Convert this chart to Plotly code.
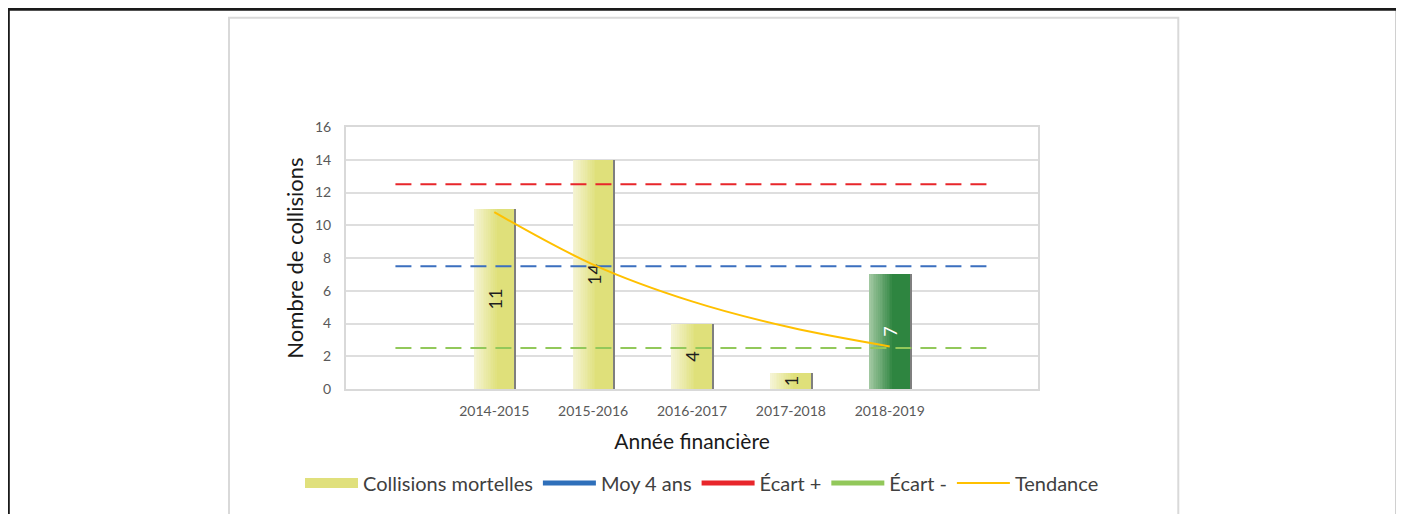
import plotly.graph_objects as go

# ---------------- data ----------------
categories = ["2014-2015", "2015-2016", "2016-2017", "2017-2018", "2018-2019"]
collisions = [11, 14, 4, 1, 7]
tendance = [10.8, 7.6, 5.35, 3.75, 2.6]
# reference lines span one extra (empty) period on each side
moy_4ans = [7.5, 7.5, 7.5, 7.5, 7.5, 7.5, 7.5]
ecart_plus = [12.5, 12.5, 12.5, 12.5, 12.5, 12.5, 12.5]
ecart_moins = [2.5, 2.5, 2.5, 2.5, 2.5, 2.5, 2.5]
y_ticks = [0, 2, 4, 6, 8, 10, 12, 14, 16]

# ---------------- styles ----------------
FONT = "Lato"
OFF = 8  # default page body margin
PAGE_W, PAGE_H = 1404, 514
x_bar = list(range(len(categories)))
x_ref = list(range(-1, len(categories) + 1))

base_rgb = [(223, 224, 122)] * 4 + [(46, 133, 64)]
light_rgb = [(245, 244, 212)] * 4 + [(160, 199, 160)]
text_colors = ["#1f1f1f"] * 4 + ["#ffffff"]


def rgb(c):
    return "rgb(%d,%d,%d)" % c


def mix(a, b, t):
    return tuple(round(a[i] + (b[i] - a[i]) * t) for i in range(3))


bar_w = 0.415
fig = go.Figure()

# base bars
fig.add_trace(go.Bar(x=x_bar, y=collisions, width=bar_w,
                     marker=dict(color=[rgb(c) for c in base_rgb], line=dict(width=0)),
                     showlegend=False, hoverinfo="skip"))
# gradient strips on the left part of each bar
n_strips = 14
grad_frac = 0.6
strip_w = bar_w * grad_frac / n_strips
for k in range(n_strips):
    t = k / (n_strips - 1)
    cols = [rgb(mix(light_rgb[i], base_rgb[i], t)) for i in range(len(categories))]
    fig.add_trace(go.Bar(x=x_bar, y=collisions, width=strip_w * 1.15,
                         offset=-bar_w / 2 + k * strip_w,
                         marker=dict(color=cols, line=dict(width=0)),
                         showlegend=False, hoverinfo="skip"))
# thin shadow line at right edge
fig.add_trace(go.Bar(x=x_bar, y=collisions, width=0.014, offset=bar_w / 2,
                     marker=dict(color="#7f7f7f", line=dict(width=0)),
                     showlegend=False, hoverinfo="skip"))
# transparent bars carrying the value labels
fig.add_trace(go.Bar(x=x_bar, y=collisions, width=bar_w,
                     marker=dict(color="rgba(0,0,0,0)", line=dict(width=0)),
                     text=[str(v) for v in collisions], textposition="inside",
                     insidetextanchor="middle", textangle=-90, constraintext="none",
                     textfont=dict(family=FONT, size=18, color=text_colors),
                     showlegend=False, hoverinfo="skip"))

# reference lines
fig.add_trace(go.Scatter(x=x_ref, y=ecart_plus, mode="lines",
                         line=dict(color="#e8262b", width=2, dash="16px,9px"),
                         showlegend=False, hoverinfo="skip"))
fig.add_trace(go.Scatter(x=x_ref, y=moy_4ans, mode="lines",
                         line=dict(color="#3b6fbf", width=2, dash="16px,9px"),
                         showlegend=False, hoverinfo="skip"))
fig.add_trace(go.Scatter(x=x_ref, y=ecart_moins, mode="lines",
                         line=dict(color="#92c85a", width=2, dash="16px,9px"),
                         showlegend=False, hoverinfo="skip"))
fig.add_trace(go.Scatter(x=x_bar, y=tendance, mode="lines", line_shape="spline",
                         line=dict(color="#ffc000", width=2),
                         showlegend=False, hoverinfo="skip"))

# legend entries
leg = [("Collisions mortelles", "#e0e07c", 14),
       ("Moy 4 ans", "#2e6fba", 5),
       ("Écart +", "#e8262b", 5),
       ("Écart -", "#92c85a", 5),
       ("Tendance", "#ffc000", 2)]
for name, col, w in leg:
    fig.add_trace(go.Scatter(x=[None], y=[None], mode="lines", name=name,
                             line=dict(color=col, width=w)))

# plot area in page pixels: 346..1038 x 127..389
L, R, T, B = 346.0, 1038.0, 127.0, 389.0


def px(xp):
    return (xp - L) / (R - L)


def py(yp):
    return (B - yp) / (B - T)


shapes = [
    dict(type="rect", xref="paper", yref="paper", x0=px(229), x1=px(1178.3),
         y0=py(540), y1=py(17.8), line=dict(color="#d9d9d9", width=2), layer="below"),
    dict(type="rect", xref="paper", yref="paper", x0=px(8.3), x1=px(1397.3),
         y0=py(560), y1=py(9.3), line=dict(color="#1a1a1a", width=3), layer="above"),
]

fig_w, fig_h = PAGE_W - OFF, PAGE_H - OFF
fig.update_layout(
    width=fig_w, height=fig_h,
    margin=dict(l=L - OFF, r=fig_w - (R - OFF), t=T - OFF, b=fig_h - (B - OFF)),
    paper_bgcolor="white", plot_bgcolor="white",
    barmode="overlay", bargap=0,
    font=dict(family=FONT, color="#595959"),
    shapes=shapes,
    legend=dict(orientation="h", x=px(300), xanchor="left", y=py(483), yanchor="middle",
                font=dict(family=FONT, size=20, color="#404040"),
                itemwidth=53, bgcolor="rgba(0,0,0,0)"),
    xaxis=dict(range=[-1.5, len(categories) + 0.5], tickvals=x_bar, ticktext=categories,
               showgrid=False, zeroline=False, showline=True, mirror=True,
               linecolor="#d9d9d9", linewidth=2, ticks="",
               tickfont=dict(family=FONT, size=14, color="#595959"),
               ticklabelstandoff=8,
               title=dict(text="Année financière", standoff=17,
                          font=dict(family=FONT, size=21, color="#1a1a1a"))),
    yaxis=dict(range=[0, 16], tickvals=y_ticks, showgrid=True, gridcolor="#dedede",
               gridwidth=2, zeroline=False, showline=True, mirror=True,
               linecolor="#d9d9d9", linewidth=2, ticks="",
               tickfont=dict(family=FONT, size=14, color="#595959"),
               ticklabelstandoff=10,
               title=dict(text="Nombre de collisions", standoff=5,
                          font=dict(family=FONT, size=22, color="#1a1a1a"))),
)

fig.write_html("out.html")
